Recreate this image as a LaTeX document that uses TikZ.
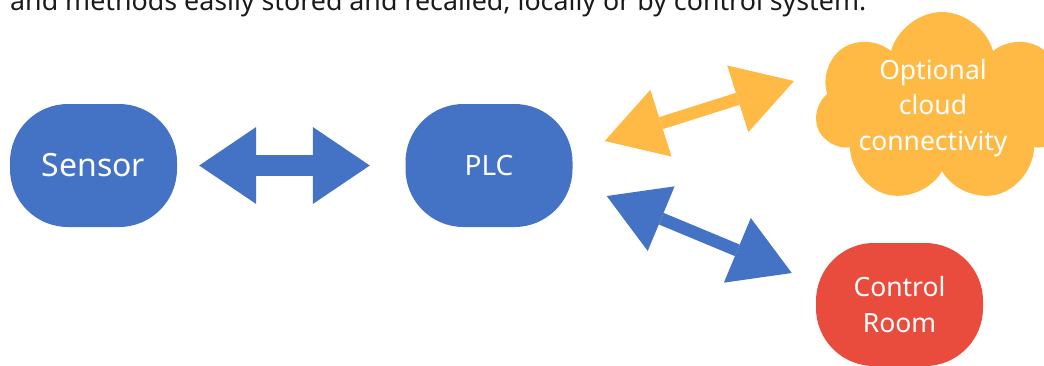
\documentclass[tikz,border=0pt]{standalone}
\usepackage{fontspec}
\setmainfont{Noto Sans}
\usepackage{tikz}
\usetikzlibrary{positioning, calc, arrows.meta, shapes.symbols}
\definecolor{plcblue}{RGB}{68, 114, 196}
\definecolor{cloudgold}{RGB}{255, 185, 69}
\definecolor{roomred}{RGB}{233, 75, 60}
\definecolor{captiongray}{RGB}{26, 26, 26}

\begin{document}
\begin{tikzpicture}[
                x=1pt, y=-1pt,
                % Style for the rounded device boxes
                devnode/.style={
                    rectangle, rounded corners=58pt,
                    fill=plcblue, text=white,
                    minimum width=167pt, minimum height=123pt, inner sep=0pt,
                    align=center, font=\fontsize{26.5}{36}\selectfont
                },
                % Style for the cloud
                cloudnode/.style={
                    cloud, cloud puffs=7, cloud puff arc=150, aspect=1.3,
                    shape border rotate=10,
                    fill=cloudgold, draw=none,
                    minimum width=254pt, minimum height=192pt, inner sep=0pt
                },
                cloudtext/.style={
                    text=white, align=center, inner sep=0pt,
                    font=\fontsize{26.5}{35.5}\selectfont
                },
                % Style for the caption line on top
                caption/.style={
                    text=captiongray, inner sep=0pt,
                    font=\fontsize{26.8}{30}\selectfont
                },
                % Style for the thick horizontal link
                mainlink/.style={
                    <->, >={Triangle[length=57pt, width=77pt, line width=0pt]},
                    line width=21pt, color=plcblue
                },
                % Style for the diagonal links
                sidelink/.style={
                    <->, >={Triangle[length=59pt, width=70pt, line width=0pt]},
                    line width=12.5pt
                }
            ]
                \path[use as bounding box, clip] (0,0) rectangle (1044,365);

                % 1. Caption (cut at the top)
                \node[caption, anchor=base west] (topline) at (10,10)
                    {and methods easily stored and recalled, locally or by control system.};

                % 2. Nodes
                \node[devnode, font=\fontsize{32}{36}\selectfont] (sensor) at (93.5,165.5) {Sensor};
                \node[devnode, font=\fontsize{28}{36}\selectfont] (plc) at (489,165.5) {PLC};
                \node[devnode, fill=roomred] (room) at (899.5,304.5) {Control\\Room};

                \node[cloudnode] (cloud) at (942,108) {};
                \node[cloudtext] (cloudlabel) at ($(cloud.center)+(-9,0)$) {Optional\\cloud\\connectivity};

                % 3. Links
                \draw[mainlink, shorten <=22pt, shorten >=35.5pt] (sensor.east) -- (plc.west);
                \draw[sidelink, color=cloudgold] ($(plc.east)+(32,-24.5)$) -- ($(cloud.center)+(-148,-27)$);
                \draw[sidelink, color=plcblue] ($(plc.east)+(34,30.5)$) -- ($(room.west)+(-24,-31.5)$);

            \end{tikzpicture}
\end{document}
